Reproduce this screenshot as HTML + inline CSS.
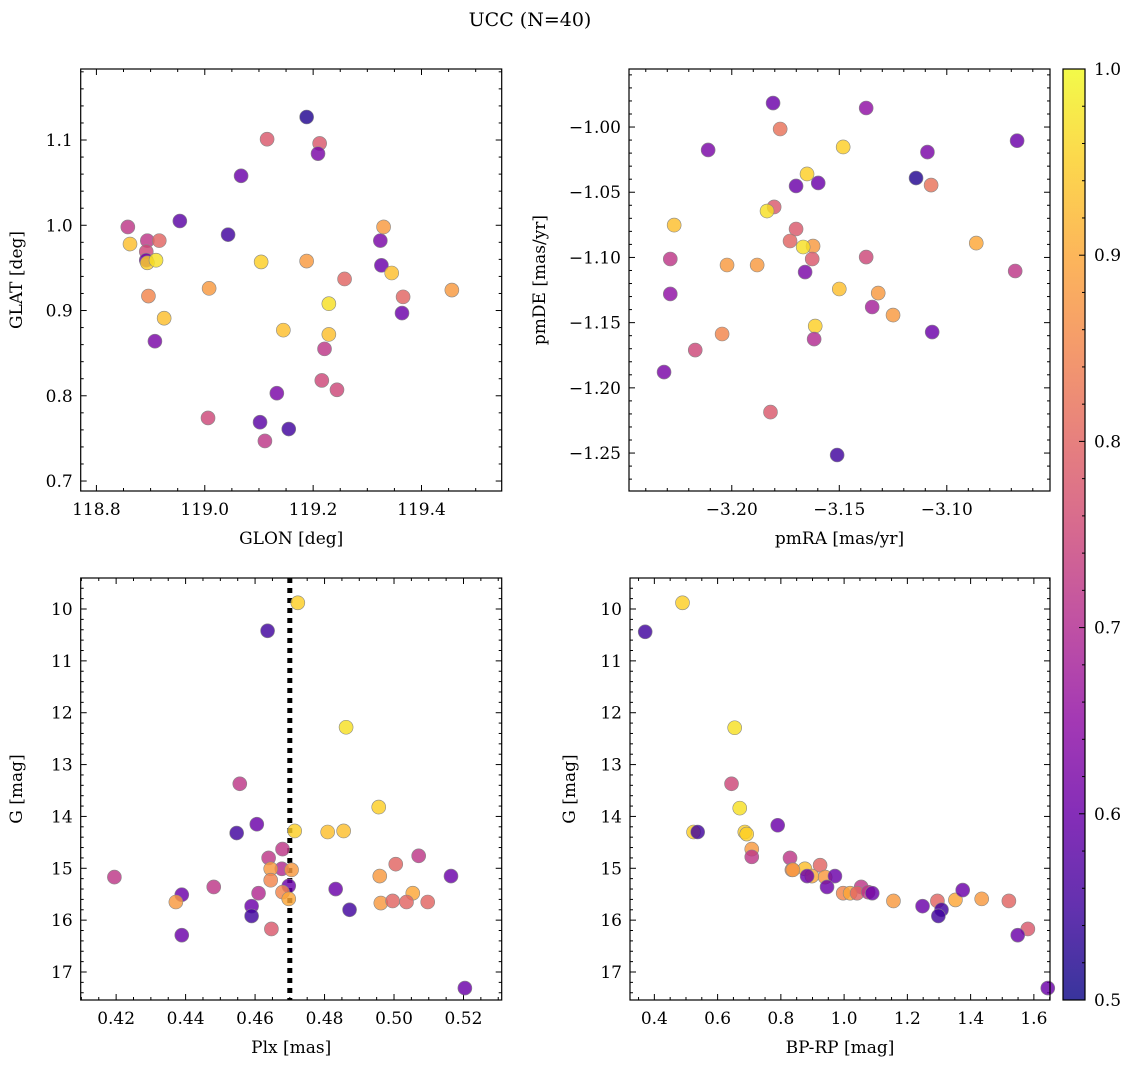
<!DOCTYPE html>
<html><head><meta charset="utf-8"><style>
body{margin:0;background:#fff;}
svg{display:block;font-family:"DejaVu Serif","Liberation Serif",serif;}
</style></head><body>
<svg id="fig" width="1136" height="1068" viewBox="0 0 1136 1068">
<text x="530" y="26" font-size="19" text-anchor="middle">UCC (N=40)</text>
</svg>
<script>
// Panel 1: GLON / GLAT
const p1_glon=[119.188,119.115,119.212,119.209,119.067,118.858,118.862,118.894,118.916,118.892,118.892,118.894,118.910,118.954,119.043,119.104,119.188,119.330,119.324,119.326,119.345,119.258,118.896,119.008,119.229,118.925,119.366,119.364,119.456,119.145,119.229,118.908,119.221,119.216,119.244,119.133,119.006,119.102,119.155,119.111];
const p1_glat=[1.127,1.101,1.096,1.084,1.058,0.998,0.978,0.982,0.982,0.969,0.959,0.956,0.959,1.005,0.989,0.957,0.958,0.998,0.982,0.953,0.944,0.937,0.917,0.926,0.908,0.891,0.916,0.897,0.924,0.877,0.872,0.864,0.855,0.818,0.807,0.803,0.774,0.769,0.761,0.747];
const p1_prob=[0.52,0.78,0.78,0.62,0.6,0.72,0.93,0.72,0.8,0.75,0.6,0.95,0.97,0.58,0.55,0.95,0.88,0.88,0.62,0.6,0.93,0.8,0.85,0.88,0.97,0.93,0.8,0.6,0.88,0.93,0.93,0.62,0.72,0.75,0.75,0.62,0.75,0.58,0.55,0.72];
// Panel 2: pmRA / pmDE
const p2_pmra=[-3.1808,-3.1375,-3.1775,-3.1482,-3.211,-3.0673,-3.109,-3.1143,-3.165,-3.1701,-3.1598,-3.1073,-3.1803,-3.1836,-3.2268,-3.1701,-3.1729,-3.1622,-3.1668,-3.0863,-3.2286,-3.1626,-3.1375,-3.2022,-3.1882,-3.0682,-3.1659,-3.15,-3.1319,-3.2286,-3.1347,-3.125,-3.1612,-3.2045,-3.1068,-3.1617,-3.217,-3.2315,-3.182,-3.151];
const p2_pmde=[-0.9816,-0.9854,-1.0015,-1.0153,-1.0176,-1.0105,-1.0192,-1.0391,-1.036,-1.0452,-1.0429,-1.0445,-1.0613,-1.0644,-1.0752,-1.0782,-1.0874,-1.0913,-1.092,-1.089,-1.1012,-1.1012,-1.0997,-1.1058,-1.1058,-1.1104,-1.1112,-1.1242,-1.1273,-1.128,-1.138,-1.1442,-1.1526,-1.1587,-1.1572,-1.1626,-1.171,-1.1879,-1.2186,-1.2515];
const p2_prob=[0.6,0.65,0.82,0.95,0.62,0.6,0.62,0.52,0.95,0.6,0.6,0.82,0.78,0.97,0.93,0.78,0.8,0.88,0.97,0.9,0.72,0.78,0.75,0.88,0.88,0.72,0.62,0.93,0.88,0.65,0.68,0.88,0.95,0.85,0.6,0.7,0.75,0.62,0.78,0.55];
// Panel 3: Plx / G
const p3_plx=[0.4723,0.4636,0.4862,0.4956,0.4556,0.4547,0.4605,0.4714,0.4809,0.4855,0.5071,0.4639,0.4679,0.5005,0.4677,0.4645,0.4705,0.4645,0.4959,0.5164,0.4195,0.4481,0.4697,0.4610,0.4679,0.4697,0.4832,0.5054,0.5097,0.4389,0.4372,0.4962,0.4996,0.5036,0.4590,0.4872,0.4590,0.4647,0.4389,0.5204];
const p3_g=[9.88,10.42,12.28,13.82,13.37,14.32,14.15,14.28,14.30,14.28,14.76,14.80,14.63,14.92,15.01,15.01,15.03,15.23,15.15,15.15,15.17,15.36,15.34,15.48,15.46,15.59,15.40,15.48,15.65,15.51,15.65,15.67,15.63,15.65,15.73,15.80,15.92,16.17,16.29,17.31];
const p3_prob=[0.95,0.55,0.97,0.95,0.72,0.55,0.6,0.95,0.93,0.93,0.72,0.72,0.72,0.8,0.7,0.88,0.88,0.85,0.88,0.6,0.72,0.72,0.6,0.7,0.85,0.9,0.6,0.9,0.8,0.6,0.88,0.88,0.8,0.8,0.6,0.55,0.55,0.78,0.6,0.6];
// Panel 4: BP-RP / G
const p4_bprp=[0.371,0.489,0.654,0.644,0.670,0.790,0.524,0.537,0.686,0.692,0.708,0.708,0.829,0.924,0.835,0.876,0.898,0.940,0.971,0.883,1.054,0.946,0.997,1.019,1.041,1.076,1.089,1.156,1.352,1.375,1.435,1.521,1.295,1.248,1.308,1.298,1.581,1.549,1.644,0.838];
const p4_g=[10.44,9.88,12.29,13.37,13.84,14.17,14.30,14.30,14.30,14.34,14.63,14.78,14.80,14.94,15.03,15.01,15.15,15.17,15.15,15.15,15.36,15.36,15.48,15.48,15.48,15.46,15.48,15.63,15.61,15.42,15.59,15.63,15.63,15.73,15.80,15.92,16.17,16.29,17.31,15.03];
const p4_prob=[0.55,0.95,0.97,0.75,0.97,0.6,0.95,0.55,0.95,0.95,0.88,0.72,0.72,0.8,0.85,0.93,0.9,0.88,0.6,0.6,0.72,0.6,0.85,0.9,0.8,0.72,0.6,0.88,0.9,0.6,0.88,0.8,0.8,0.6,0.55,0.55,0.78,0.6,0.6,0.88];
const plxLine=0.470;
const cbTicks=[0.5,0.6,0.7,0.8,0.9,1.0];

const NS="http://www.w3.org/2000/svg";
const svg=document.getElementById('fig');
function mk(tag,attrs,parent){const e=document.createElementNS(NS,tag);for(const k in attrs)e.setAttribute(k,attrs[k]);(parent||svg).appendChild(e);return e;}
const plasma=[[13,8,135],[65,4,157],[106,0,168],[143,13,164],[177,42,144],[204,71,120],[225,100,98],[242,132,75],[252,166,54],[252,206,37],[240,249,33]];
function cmap(v){let t=(v-0.5)/0.5;t=Math.max(0,Math.min(1,t))*10;const i=Math.min(9,Math.floor(t)),f=t-i;const a=plasma[i],b=plasma[i+1];return `rgb(${Math.round(a[0]+(b[0]-a[0])*f)},${Math.round(a[1]+(b[1]-a[1])*f)},${Math.round(a[2]+(b[2]-a[2])*f)})`;}
const FS=17;
function panel(o){
  const g=mk('g',{});
  
  
  const sx=v=>o.x0+(v-o.xmin)/(o.xmax-o.xmin)*(o.x1-o.x0);
  const sy=o.invert?(v=>o.y0+(v-o.ymin)/(o.ymax-o.ymin)*(o.y1-o.y0)):(v=>o.y1-(v-o.ymin)/(o.ymax-o.ymin)*(o.y1-o.y0));
  const tg=mk('g',{stroke:'#000','stroke-width':1},g);
  for(let v=Math.ceil(o.xmin/o.xminor-1e-9)*o.xminor;v<=o.xmax+1e-9;v+=o.xminor){const x=sx(v);const maj=Math.abs(v/o.xmajor-Math.round(v/o.xmajor))<1e-6;const L=maj?6:3;
    mk('line',{x1:x,x2:x,y1:o.y1,y2:o.y1-L},tg);mk('line',{x1:x,x2:x,y1:o.y0,y2:o.y0+L},tg);}
  for(let v=Math.ceil(o.ymin/o.yminor-1e-9)*o.yminor;v<=o.ymax+1e-9;v+=o.yminor){const y=sy(v);const maj=Math.abs(v/o.ymajor-Math.round(v/o.ymajor))<1e-6;const L=maj?6:3;
    mk('line',{y1:y,y2:y,x1:o.x0,x2:o.x0+L},tg);mk('line',{y1:y,y2:y,x1:o.x1,x2:o.x1-L},tg);}
  o.xticks.forEach(t=>{const e=mk('text',{x:sx(t.v),y:o.y1+24,'font-size':FS,'text-anchor':'middle'},g);e.textContent=t.l;
    
    });
  o.yticks.forEach(t=>{const e=mk('text',{x:o.x0-8,y:sy(t.v)+6,'font-size':FS,'text-anchor':'end'},g);e.textContent=t.l;
    
    });
  const xl=mk('text',{x:(o.x0+o.x1)/2,y:o.y1+53,'font-size':FS,'text-anchor':'middle'},g);xl.textContent=o.xlabel;
  
  
  const yc=(o.y0+o.y1)/2;
  const yl=mk('text',{x:o.ylx,y:yc,'font-size':FS,'text-anchor':'middle',transform:`rotate(-90 ${o.ylx} ${yc})`},g);yl.textContent=o.ylabel;
  
  
  if(o.vline!==undefined){const l=mk('line',{x1:sx(o.vline),x2:sx(o.vline),y1:o.y0,y2:o.y1,stroke:'#000','stroke-width':5,'stroke-dasharray':'5,5'},g);
    
    }
  for(let i=0;i<o.xs.length;i++){const c=mk('circle',{cx:sx(o.xs[i]),cy:sy(o.ys[i]),r:7,fill:cmap(o.cs[i]),'fill-opacity':0.82,stroke:'#888','stroke-width':0.6},g);
    
    }
  const fr=mk('rect',{x:o.x0,y:o.y0,width:o.x1-o.x0,height:o.y1-o.y0,fill:'none',stroke:'#000','stroke-width':1.2},g);
  
  
}
const T=(arr,d)=>arr.map(v=>({v:v,l:(v<0?'\u2212':'')+Math.abs(v).toFixed(d)}));
panel({name:'glon-glat-panel',x0:80.7,x1:501.7,y0:69,y1:491,xmin:118.771,xmax:119.548,ymin:0.6883,ymax:1.1833,xmajor:0.2,xminor:0.05,ymajor:0.1,yminor:0.02,
 xticks:T([118.8,119.0,119.2,119.4],1),yticks:T([0.7,0.8,0.9,1.0,1.1],1),xlabel:'GLON [deg]',ylabel:'GLAT [deg]',ylx:22,xs:p1_glon,ys:p1_glat,cs:p1_prob});
panel({name:'pm-panel',x0:629,x1:1050,y0:69,y1:491,xmin:-3.2478,xmax:-3.052,ymin:-1.2791,ymax:-0.9555,xmajor:0.05,xminor:0.01,ymajor:0.05,yminor:0.01,
 xticks:T([-3.20,-3.15,-3.10],2),yticks:T([-1.25,-1.20,-1.15,-1.10,-1.05,-1.00],2),xlabel:'pmRA [mas/yr]',ylabel:'pmDE [mas/yr]',ylx:545,xs:p2_pmra,ys:p2_pmde,cs:p2_prob});
panel({name:'plx-g-panel',x0:80.7,x1:501.7,y0:578,y1:1000,xmin:0.4098,xmax:0.531,ymin:9.402,ymax:17.54,invert:true,xmajor:0.02,xminor:0.005,ymajor:1,yminor:0.2,
 xticks:T([0.42,0.44,0.46,0.48,0.50,0.52],2),yticks:T([10,11,12,13,14,15,16,17],0),xlabel:'Plx [mas]',ylabel:'G [mag]',ylx:22,vline:plxLine,xs:p3_plx,ys:p3_g,cs:p3_prob});
panel({name:'cmd-panel',x0:630,x1:1050,y0:578,y1:1000,xmin:0.323,xmax:1.651,ymin:9.402,ymax:17.54,invert:true,xmajor:0.2,xminor:0.05,ymajor:1,yminor:0.2,
 xticks:T([0.4,0.6,0.8,1.0,1.2,1.4,1.6],1),yticks:T([10,11,12,13,14,15,16,17],0),xlabel:'BP-RP [mag]',ylabel:'G [mag]',ylx:575,xs:p4_bprp,ys:p4_g,cs:p4_prob});
const defs=mk('defs',{});
const lg=mk('linearGradient',{id:'cbg',x1:0,y1:1,x2:0,y2:0},defs);
plasma.forEach((c,i)=>mk('stop',{offset:(i/10),'stop-color':`rgb(${c})`},lg));
const cb=mk('g',{});


mk('rect',{x:1063,y:69,width:22,height:931,fill:'url(#cbg)','fill-opacity':0.82},cb);
mk('rect',{x:1063,y:69,width:22,height:931,fill:'none',stroke:'#000','stroke-width':1.2},cb);
const cy=v=>1000-(v-0.5)/0.5*931;
for(let k=0;k<=25;k++){const v=0.5+k*0.02;const maj=k%5===0;mk('line',{x1:1085,x2:1085-(maj?6:3),y1:cy(v),y2:cy(v),stroke:'#000'},cb);}
cbTicks.forEach(v=>{const e=mk('text',{x:1094,y:cy(v)+6,'font-size':FS},cb);e.textContent=v.toFixed(1);
  
  });
</script>
</body></html>
